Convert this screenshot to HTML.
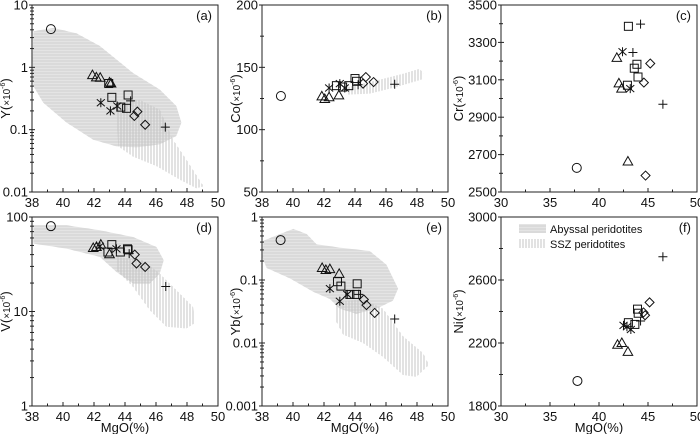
<!DOCTYPE html>
<html><head><meta charset="utf-8"><style>
html,body{margin:0;padding:0;background:#fff;width:700px;height:434px;overflow:hidden}
svg{display:block;font-family:"Liberation Sans",Arial,sans-serif}
</style></head><body>
<svg id="fig" width="700" height="434" viewBox="0 0 700 434" xmlns="http://www.w3.org/2000/svg">
<defs>
<pattern id="hAby" width="4" height="3" patternUnits="userSpaceOnUse"><rect width="4" height="3" fill="#e4e4e4"/><line x1="0" y1="1" x2="4" y2="1" stroke="#cfcfcf" stroke-width="1"/></pattern>
<pattern id="vSsz" width="3" height="4" patternUnits="userSpaceOnUse"><rect width="3" height="4" fill="#fff" fill-opacity="0"/><line x1="1" y1="0" x2="1" y2="4" stroke="#c4c4c4" stroke-width="1"/></pattern>
</defs>
</svg>
<script>
// ---- panel (a) Y ----
const aTypes=['o','t','t','t','t','t','s','s','s','s','s','x','x','x','p','p','d','d','d'];
const aMgO=[39.22,41.9,42.15,42.4,43.0,43.1,42.95,43.15,43.73,44.1,44.2,42.44,43.06,43.5,44.36,46.6,44.6,44.8,45.3];
const aVal=[4.1,0.75,0.69,0.68,0.57,0.55,0.55,0.33,0.23,0.22,0.36,0.27,0.20,0.24,0.29,0.11,0.166,0.195,0.12];
const aAbyX=[38.09,39.37,40.88,42.38,44.52,46.24,47.31,47.64,47.31,46.24,44.74,43.45,41.95,40.23,38.73,38.09,38.04];
const aAbyY=[3.8,4.3,3.5,2.2,0.81,0.44,0.24,0.13,0.079,0.058,0.052,0.054,0.069,0.13,0.27,0.5,1.3];
const aSszX=[43.45,44.95,46.24,47.1,47.96,49.07,48.6,47.53,46.03,44.52,43.56];
const aSszY=[0.27,0.30,0.21,0.069,0.033,0.0123,0.0115,0.0158,0.026,0.037,0.054];
// ---- panel (b) Co ----
const bTypes=['o','t','t','t','t','x','x','x','s','s','s','s','s','p','p','d','d','d'];
const bMgO=[39.22,41.86,42.05,42.33,42.96,42.33,43.02,43.34,42.8,43.2,43.6,44.0,44.1,44.2,46.56,44.52,44.7,45.2];
const bVal=[127,126.7,124.6,126,127.5,133.4,136.9,133.4,135.3,134.2,135.3,141,138.8,136,136.4,136.9,142.2,138.2];
const bSszX=[43.56,45.6,47.1,48.17,48.43,48.28,46.67,44.95,43.56];
const bSszY=[134.2,140.1,144.9,148.9,144.9,140.1,134.2,128.9,128.1];
// ---- panel (c) Cr ----
const cTypes=['s','s','s','s','s','p','p','p','x','x','t','t','t','t','d','d','d','o'];
const cMgO=[43.0,43.87,43.6,43.98,42.9,44.24,43.46,46.52,42.4,43.19,41.82,42.03,42.3,42.95,45.23,44.58,44.75,37.73];
const cVal=[3386,3183,3162,3115,3071,3398,3246,2969,3250,3053,3217,3081,3053,2663,3187,3085,2588,2629];
// ---- panel (d) V ----
const dTypes=['o','t','t','t','t','x','x','s','s','s','s','s','p','p','d','d','d'];
const dMgO=[39.22,41.95,42.16,42.44,43.0,42.38,43.45,43.15,42.9,43.7,44.16,44.2,44.27,46.63,44.63,44.74,45.3];
const dVal=[80,47,48.2,51,40.4,49,46,51,42.6,42.6,46,45,41,18.4,40,32.2,29.6];
const dAbyX=[38.09,40.23,42.38,44.52,46.03,46.5,46.24,45.6,44.52,43.45,42.38,40.23,38.09];
const dAbyY=[81.7,81.7,72.3,61.5,48.2,34.9,25.2,19.8,19.8,26.2,37.8,46.3,52.3];
const dSszX=[43.45,45.17,46.24,47.53,48.39,48.49,47.96,46.67,45.6,44.52,43.45];
const dSszY=[37.8,34.9,25.2,15.5,11.2,7.5,6.6,6.9,10.3,18.2,27.4];
// ---- panel (e) Yb ----
const eTypes=['o','t','t','t','t','s','s','s','s','s','x','x','x','p','p','d','d','d'];
const eMgO=[39.2,41.88,42.12,42.38,42.98,42.87,43.09,43.67,44.1,44.14,42.38,43.02,43.5,44.24,46.56,44.57,44.74,45.27];
const eVal=[0.43,0.155,0.144,0.149,0.125,0.094,0.08,0.059,0.059,0.087,0.073,0.046,0.059,0.059,0.024,0.049,0.040,0.030];
const eAbyX=[38.09,39.16,40.02,40.88,41.52,43.02,44.95,46.03,46.78,46.45,45.38,44.09,43.02,42.38,41.3,39.8,38.3,38.04];
const eAbyY=[0.42,0.537,0.647,0.537,0.37,0.326,0.288,0.175,0.073,0.047,0.035,0.029,0.035,0.05,0.065,0.106,0.155,0.224];
const eSszX=[42.7,44.52,45.81,47.1,48.39,48.77,47.96,47.1,45.81,44.52,43.24,42.7];
const eSszY=[0.0446,0.05,0.035,0.0128,0.0069,0.0045,0.0029,0.0031,0.006,0.01,0.0136,0.024];
// ---- panel (f) Ni ----
const fTypes=['o','t','t','t','x','x','x','s','s','s','s','p','p','d','d','d'];
const fMgO=[37.8,41.89,42.33,42.95,42.5,42.85,43.25,43.0,43.93,44.0,43.66,46.52,44.24,45.16,44.54,44.7];
const fVal=[1959,2189,2200,2144,2312,2303,2286,2329,2415,2389,2318,2748,2340,2458,2394,2376];
// tick labels
const xTicksA=[38,40,42,44,46,48,50];
const xTicksC=[30,35,40,45,50];
const yTicksA=['0.01','0.1','1','10'];
const yTicksB=['50','100','150','200'];
const yTicksC=['2500','2700','2900','3100','3300','3500'];
const yTicksD=['1','10','100'];
const yTicksE=['0.001','0.01','0.1','1'];
const yTicksF=['1800','2200','2600','3000'];

const svg=document.getElementById('fig');
const NS='http://www.w3.org/2000/svg';
function mk(tag,attrs,parent){const e=document.createElementNS(NS,tag);for(const k in attrs)e.setAttribute(k,attrs[k]);(parent||svg).appendChild(e);return e;}

function panel(o){
  const g=mk('g',{});
  
  
  const sx=v=>o.x0+(v-o.xmin)/(o.xmax-o.xmin)*(o.x1-o.x0);
  const sy=o.log?(v=>o.y1-(Math.log10(v)-Math.log10(o.ymin))/(Math.log10(o.ymax)-Math.log10(o.ymin))*(o.y1-o.y0))
                 :(v=>o.y1-(v-o.ymin)/(o.ymax-o.ymin)*(o.y1-o.y0));
  const poly=(X,Y,fill,name)=>{const p=mk('polygon',{points:X.map((x,i)=>sx(x)+','+sy(Y[i])).join(' '),fill:fill,stroke:'none'},g);
    
    };
  if(o.abyX)poly(o.abyX,o.abyY,'url(#hAby)','abyssal-field');
  if(o.sszX)poly(o.sszX,o.sszY,'url(#vSsz)','ssz-field');
  const fr=mk('rect',{x:o.x0,y:o.y0,width:o.x1-o.x0,height:o.y1-o.y0,fill:'none',stroke:'#222','stroke-width':1},g);
  
  
  o.xt.forEach((t,i)=>{const x=sx(t);mk('line',{x1:x,y1:o.y1,x2:x,y2:o.y1-4,stroke:'#222'},g);
    const tx=mk('text',{x:x,y:o.y1+15,'font-size':13,'text-anchor':'middle',fill:'#111'},g);tx.textContent=t;
    
    
    if(i<o.xt.length-1){const m=sx((t+o.xt[i+1])/2);mk('line',{x1:m,y1:o.y1,x2:m,y2:o.y1-2.5,stroke:'#222'},g);}});
  o.yt.forEach((lab,i)=>{const v=parseFloat(lab);const y=sy(v);
    mk('line',{x1:o.x0-3,y1:y,x2:o.x0+3,y2:y,stroke:'#222'},g);
    const tx=mk('text',{x:o.x0-4,y:y+4.5,'font-size':13,'text-anchor':'end',fill:'#111'},g);tx.textContent=lab;
    
    
    if(i<o.yt.length-1){
      if(o.log){for(let k=2;k<10;k++){const yy=sy(v*k);mk('line',{x1:o.x0-2,y1:yy,x2:o.x0+2,y2:yy,stroke:'#222'},g);}}
      else{const n=o.ysub;const nv=parseFloat(o.yt[i+1]);for(let k=1;k<n;k++){const yy=sy(v+(nv-v)*k/n);mk('line',{x1:o.x0-2,y1:yy,x2:o.x0+2,y2:yy,stroke:'#222'},g);}}
    }});
  const cy=(o.y0+o.y1)/2;
  const off=o.ytOff||22;
  const yt=mk('text',{x:0,y:0,transform:`translate(${o.x0-off},${cy}) rotate(-90)`,'font-size':13,'text-anchor':'middle',fill:'#111'},g);
  yt.innerHTML=o.ylab+'(<tspan font-size="10">×10</tspan><tspan font-size="7" dy="-5">-6</tspan><tspan dy="5">)</tspan>';
  
  
  if(o.xlab){const xl=mk('text',{x:(o.x0+o.x1)/2,y:o.y1+26,'font-size':13,'text-anchor':'middle',fill:'#111'},g);xl.textContent='MgO(%)';
    
    }
  const pl=mk('text',{x:o.x1-6,y:o.y0+15,'font-size':13,'text-anchor':'end',fill:'#111'},g);pl.textContent='('+o.id+')';
  
  
  o.types.forEach((t,i)=>{const x=sx(o.mgo[i]),y=sy(o.val[i]);drawMarker(g,t,x,y);});
}
function drawMarker(g,t,x,y){
  const st={fill:'none',stroke:'#111','stroke-width':1};
  let e;
  if(t==='o')e=mk('circle',Object.assign({cx:x,cy:y,r:4.5},st),g);
  else if(t==='t')e=mk('polygon',Object.assign({points:`${x},${y-5} ${x-4.8},${y+3.5} ${x+4.8},${y+3.5}`},st),g);
  else if(t==='s')e=mk('rect',Object.assign({x:x-4,y:y-4,width:8,height:8},st),g);
  else if(t==='d')e=mk('polygon',Object.assign({points:`${x},${y-4.5} ${x+4.5},${y} ${x},${y+4.5} ${x-4.5},${y}`},st),g);
  else if(t==='p')e=mk('path',Object.assign({d:`M${x-4.5},${y}H${x+4.5}M${x},${y-4.5}V${y+4.5}`},st),g);
  else e=mk('path',Object.assign({d:`M${x-4},${y-3.5}L${x+4},${y+3.5}M${x+4},${y-3.5}L${x-4},${y+3.5}M${x},${y-4.5}V${y+4.5}`},st),g);
  
  
}
const L={x0:32,x1:218},M={x0:262,x1:448},R={x0:501,x1:697},T={y0:5,y1:192},B={y0:217,y1:406};
panel({id:'a',...L,...T,xmin:38,xmax:50,xt:xTicksA,log:true,ymin:0.01,ymax:10,yt:yTicksA,ylab:'Y',types:aTypes,mgo:aMgO,val:aVal,abyX:aAbyX,abyY:aAbyY,sszX:aSszX,sszY:aSszY});
panel({id:'b',...M,...T,xmin:38,xmax:50,xt:xTicksA,log:false,ymin:50,ymax:200,yt:yTicksB,ysub:2,ylab:'Co',types:bTypes,mgo:bMgO,val:bVal,sszX:bSszX,sszY:bSszY});
panel({id:'c',...R,...T,xmin:30,xmax:50,xt:xTicksC,log:false,ymin:2500,ymax:3500,yt:yTicksC,ysub:2,ylab:'Cr',ytOff:38,types:cTypes,mgo:cMgO,val:cVal});
panel({id:'d',...L,...B,xmin:38,xmax:50,xt:xTicksA,log:true,ymin:1,ymax:100,yt:yTicksD,ylab:'V',xlab:true,types:dTypes,mgo:dMgO,val:dVal,abyX:dAbyX,abyY:dAbyY,sszX:dSszX,sszY:dSszY});
panel({id:'e',...M,...B,xmin:38,xmax:50,xt:xTicksA,log:true,ymin:0.001,ymax:1,yt:yTicksE,ylab:'Yb',xlab:true,types:eTypes,mgo:eMgO,val:eVal,abyX:eAbyX,abyY:eAbyY,sszX:eSszX,sszY:eSszY});
panel({id:'f',...R,...B,xmin:30,xmax:50,xt:xTicksC,log:false,ymin:1800,ymax:3000,yt:yTicksF,ysub:2,ylab:'Ni',ytOff:38,xlab:true,types:fTypes,mgo:fMgO,val:fVal});
const lg=mk('g',{});


const s1=mk('rect',{x:519,y:224,width:27,height:9,fill:'url(#hAby)'},lg);


const s2=mk('rect',{x:519,y:239,width:27,height:9,fill:'url(#vSsz)'},lg);


const t1=mk('text',{x:550,y:233,'font-size':11,fill:'#111'},lg);t1.textContent='Abyssal peridotites';


const t2=mk('text',{x:550,y:248,'font-size':11,fill:'#111'},lg);t2.textContent='SSZ peridotites';


</script>
</body></html>
